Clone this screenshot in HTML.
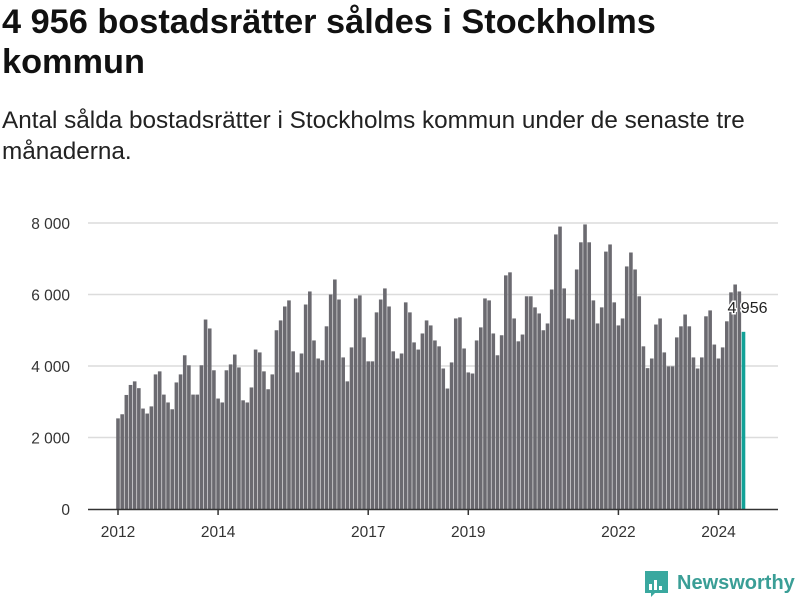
<!DOCTYPE html>
<html><head><meta charset="utf-8"><style>
body{margin:0;background:#fff;font-family:"Liberation Sans",sans-serif;color:#111}
#wrap{position:relative;width:800px;height:600px;overflow:hidden}
h1{position:absolute;left:2px;top:2px;margin:0;font-size:34.3px;line-height:40px;font-weight:bold;width:798px;white-space:nowrap}
p.sub{position:absolute;left:2px;top:105px;margin:0;font-size:24.3px;line-height:31px;width:798px;color:#222;white-space:nowrap}
svg{position:absolute;left:0;top:0}
</style></head><body><div id="wrap">
<h1>4 956 bostadsrätter såldes i Stockholms<br>kommun</h1>
<p class="sub">Antal sålda bostadsrätter i Stockholms kommun under de senaste tre<br>månaderna.</p>
<svg id="chart" width="800" height="600"></svg>
</div>
<script>
const values=[2535,2650,3190,3470,3570,3380,2810,2670,2870,3765,3850,3200,2980,2790,3540,3765,4300,4020,3200,3200,4020,5300,5050,3880,3090,2980,3880,4045,4320,3960,3040,2980,3400,4460,4380,3850,3350,3765,5000,5275,
5665,5835,4410,3820,4350,5720,6085,4715,4210,4160,5110,6000,6420,5860,4240,3570,4520,5890,5975,4800,4130,4130,5500,5860,6170,5665,4410,4210,4350,5780,5500,4660,4460,4910,5275,5135,4715,4550,
3930,3370,4100,5330,5360,4490,3820,3790,4715,5080,5890,5835,4910,4300,4860,6535,6620,5330,4690,4880,5950,5950,5640,5470,5000,5190,6140,7680,7900,6170,5330,5300,6700,7460,7960,7460,5835,5190,
5640,7200,7400,5780,5135,5330,6785,7175,6700,5950,4550,3940,4210,5160,5330,4380,3990,3990,4800,5110,5440,5110,4240,3930,4240,5390,5555,4600,4210,4520,5250,6060,6280,6085,4956];
const yTicks=[0,2000,4000,6000,8000];
const yTickLabels=["0","2 000","4 000","6 000","8 000"];
const xTickMonths=[0,24,60,84,120,144];
const xTickLabels=["2012","2014","2017","2019","2022","2024"];
const highlightLabel="4 956";
const svg=document.getElementById('chart');const NS='http://www.w3.org/2000/svg';
function y(v){return 509-v*(286/8000);}
function x(i){return 118+i*4.17;}
function mk(t,a,txt){const e=document.createElementNS(NS,t);for(const k in a)e.setAttribute(k,a[k]);if(txt!=null)e.textContent=txt;svg.appendChild(e);return e;}
yTicks.forEach((t,i)=>{
 if(t>0){const g=mk('line',{x1:88,x2:778,y1:y(t),y2:y(t),stroke:'#dcdcdc','stroke-width':1.5});
 
 }
 const l=mk('text',{x:70,y:y(t)+6,'text-anchor':'end','font-size':15.5,fill:'#333'},yTickLabels[i]);
 
 
});
values.forEach((v,i)=>{
 const last=i===values.length-1;
 const r=mk('rect',{x:x(i)-1.8,y:y(v),width:3.6,height:509-y(v),fill:last?'#12a197':'#6b6a70'});
 
 
});
const ax=mk('line',{x1:88,x2:778,y1:509.5,y2:509.5,stroke:'#333','stroke-width':1.5});


xTickMonths.forEach((m,i)=>{
 const t=mk('line',{x1:x(m),x2:x(m),y1:509,y2:515,stroke:'#333','stroke-width':1.5});
 
 
 const l=mk('text',{x:x(m),y:537,'text-anchor':'middle','font-size':15.5,fill:'#333'},xTickLabels[i]);
 
 
});
const li=values.length-1;
const vl=mk('text',{x:x(li)+24,y:y(values[li])-19,'text-anchor':'end','font-size':16,fill:'#222',stroke:'#fff','stroke-width':3,'paint-order':'stroke'},highlightLabel);


const g=mk('g',{});


const ic=document.createElementNS(NS,'path');ic.setAttribute('d','M645 571h23v22h-13l-4 4v-4h-6z');ic.setAttribute('fill','#3aa89f');g.appendChild(ic);
[[649,584,3,6],[654,580,3,10],[659,586,3,4]].forEach(b=>{const r=document.createElementNS(NS,'rect');r.setAttribute('x',b[0]);r.setAttribute('y',b[1]);r.setAttribute('width',b[2]);r.setAttribute('height',b[3]);r.setAttribute('fill','#fff');g.appendChild(r);});
const tx=document.createElementNS(NS,'text');tx.setAttribute('x',677);tx.setAttribute('y',589);tx.setAttribute('font-size',20);tx.setAttribute('font-weight','bold');tx.setAttribute('fill','#3a9e96');tx.textContent='Newsworthy';g.appendChild(tx);
svg.appendChild(g);
</script></body></html>
